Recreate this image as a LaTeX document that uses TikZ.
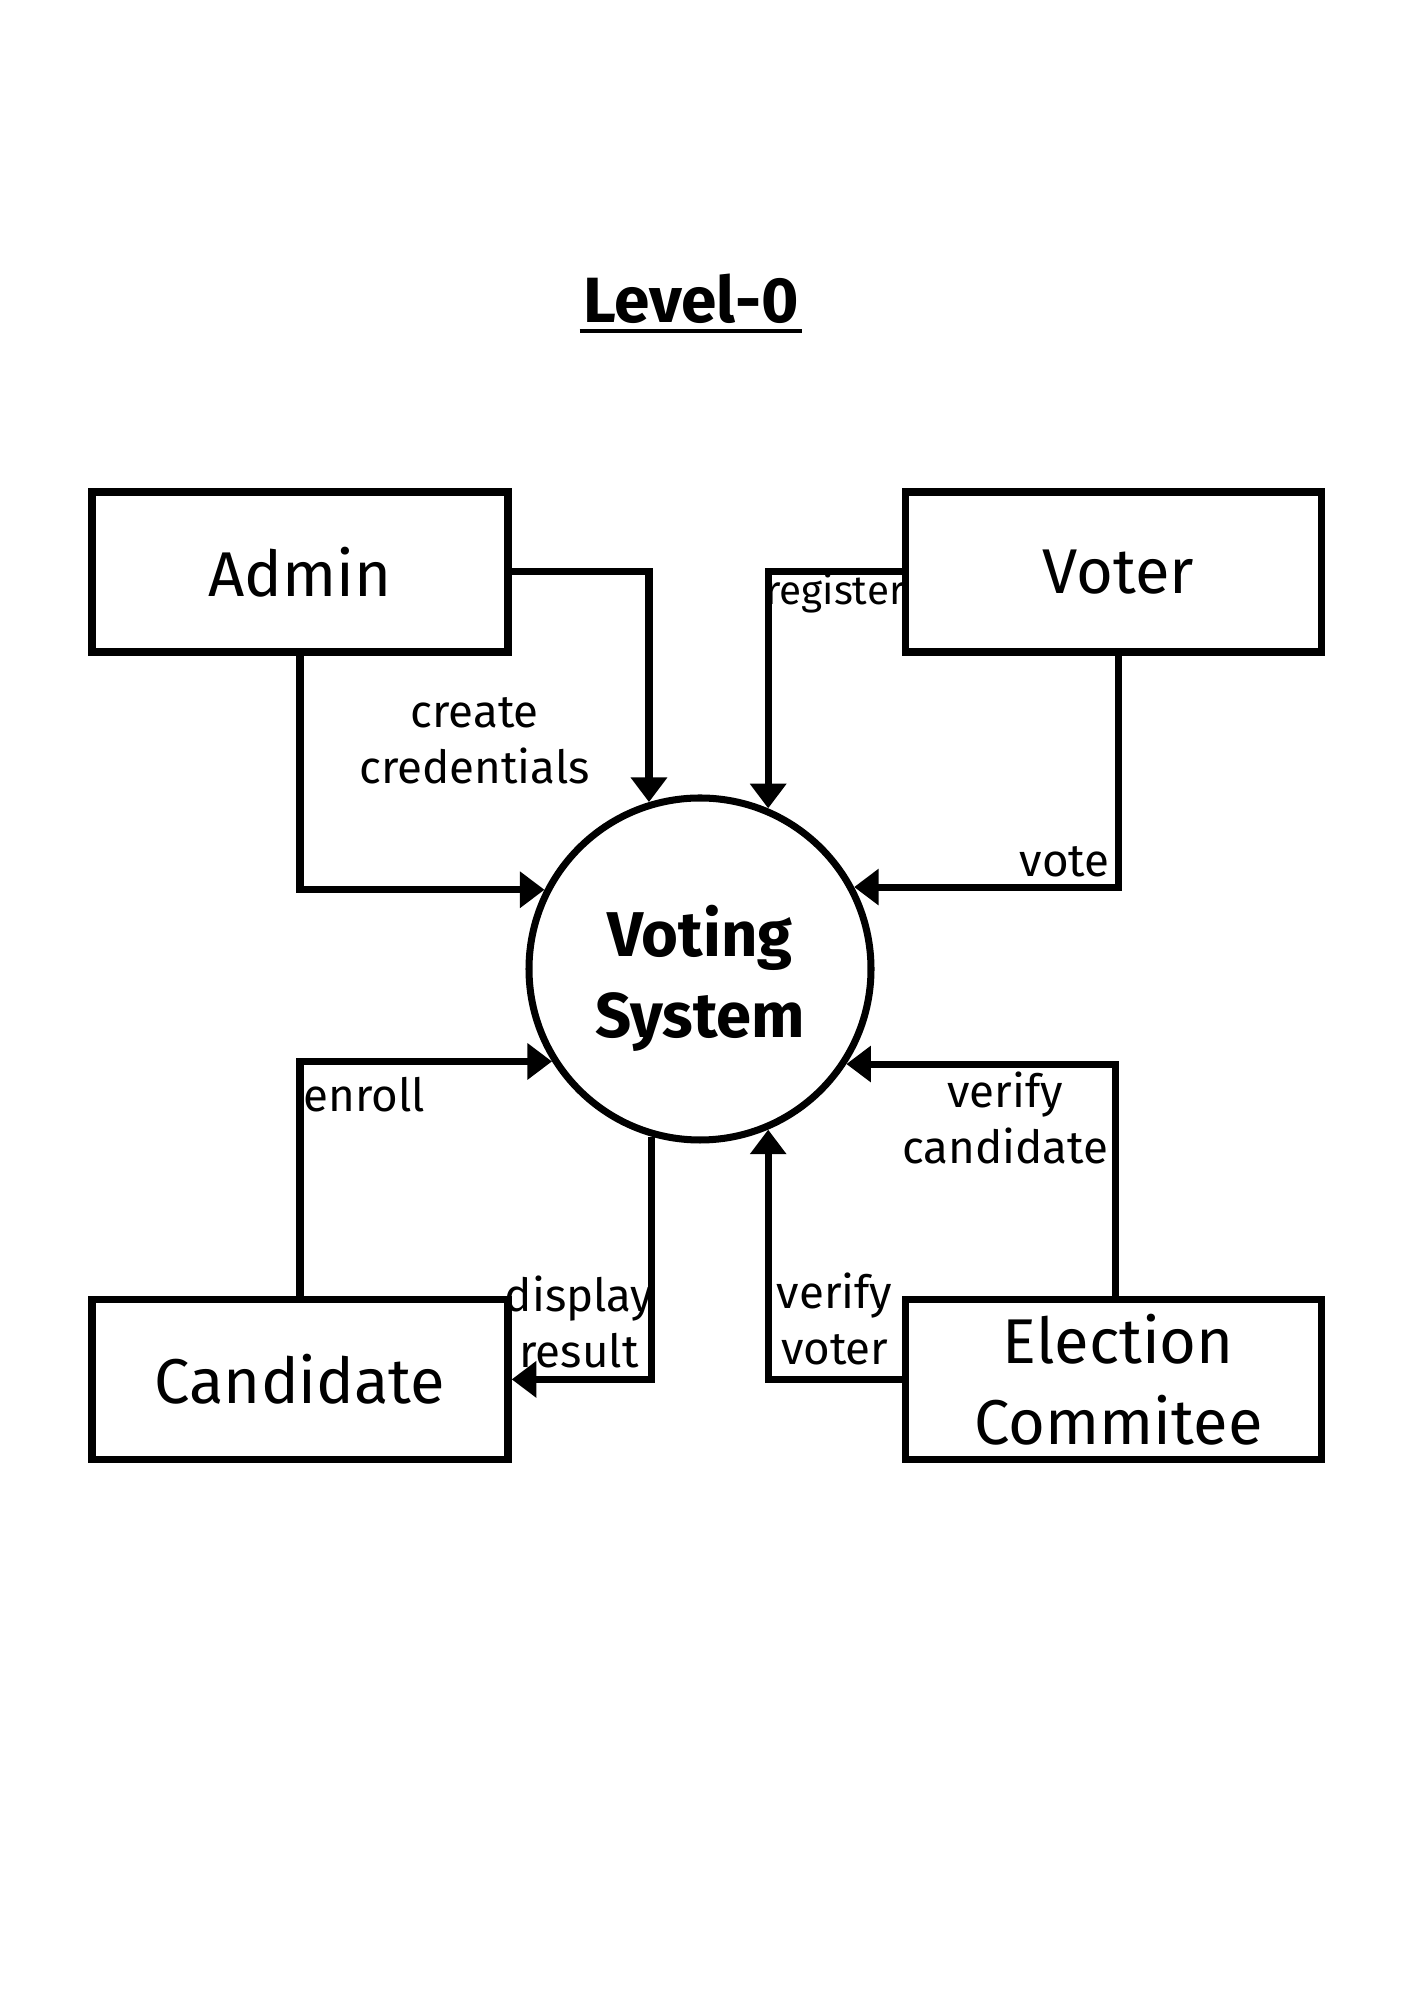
\documentclass[tikz,border=0pt]{standalone}
\usepackage{fontspec}
\setmainfont{Fira Sans}
\usetikzlibrary{positioning,arrows.meta}

\tikzset{
  entity/.style={draw, rectangle, line width=2.1pt, minimum width=4.16cm, minimum height=1.6cm, align=center, font=\fontsize{18}{23}\selectfont},
  process/.style={draw, circle, line width=2pt, minimum size=3.42cm, font=\fontsize{18}{23}\selectfont\bfseries},
  flow/.style={line width=2pt, -{Triangle[width=10pt,length=7pt]}},
  lbl/.style={font=\fontsize{13}{16}\selectfont, align=center, inner sep=3pt},
}

\begin{document}
\begin{tikzpicture}
\useasboundingbox (0,0) rectangle (14.14,20);

% Title
\node[font=\fontsize{18.2}{20}\selectfont\bfseries, anchor=base, inner sep=0] (title) at (6.91,16.77) {Level-0};
\draw[line width=1.2pt, shorten <=-0.03cm, shorten >=-0.03cm] ([yshift=-0.08cm]title.base west) -- ([yshift=-0.08cm]title.base east);

% Nodes
\node[process] (sys) at (7.00,10.31) {\raisebox{-0.12cm}[\height][\depth]{\begin{tabular}{@{}c@{}}Voting\\System\end{tabular}}};
\node[entity] (admin) at (3.00,14.28) {Admin};
\node[entity, right=3.90cm of admin] (voter) {\hspace{0.1cm}Voter};
\node[entity, below=6.40cm of admin] (cand) {Candidate};
\node[entity, right=3.90cm of cand] (elec) {\hspace{0.1cm}Election\\\hspace{0.1cm}Commitee};

% Flows
\draw[flow] (admin.east) -| node[lbl, pos=0.867, anchor=east, xshift=-0.45cm] (credlbl) {create\\credentials} (sys.107.3);
\draw[flow] (admin.south) |- (sys.153.4);

\draw[flow] (voter.west) -| node[font=\fontsize{11.5}{14}\selectfont, pos=0.25, anchor=north, inner sep=0pt, yshift=0.03cm] (reglbl) {register} (sys.67.8);
\draw[flow] ([xshift=0.05cm]voter.south) |- node[lbl, pos=0.5, anchor=south east, inner xsep=1.5pt, inner ysep=1.9pt] (votelbl) {vote} (sys.28.1);

\draw[flow] (cand.north) |- node[lbl, pos=0.5, anchor=north west, inner xsep=0pt, inner ysep=3.6pt] (enrlbl) {enroll} (sys.212.4);
\draw[flow] (sys.254.1) |- node[lbl, pos=0.5, anchor=south east, inner xsep=0pt, inner ysep=2.2pt, xshift=0.05cm] (reslbl) {display\\result} (cand.east);

\draw[flow] (elec.west) -| node[lbl, pos=0.5, anchor=south west, inner xsep=1.5pt] (vvlbl) {verify\\voter} (sys.293.6);
\draw[flow] ([xshift=0.02cm]elec.north) |- node[lbl, pos=0.5, anchor=north east, inner xsep=1pt, inner ysep=1.2pt] (vclbl) {verify\\candidate} (sys.327.6);

\end{tikzpicture}
\end{document}
